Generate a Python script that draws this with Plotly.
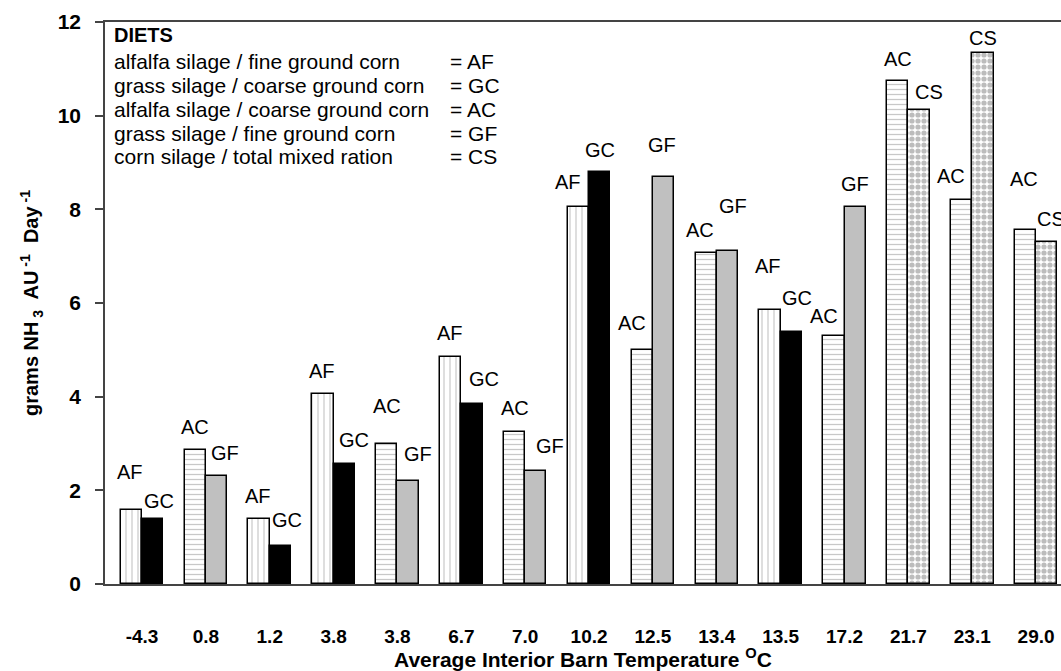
import plotly.graph_objects as go

# Average interior barn temperature (°C) for each sampling period
temps = ["-4.3", "0.8", "1.2", "3.8", "3.8", "6.7", "7.0", "10.2",
         "12.5", "13.4", "13.5", "17.2", "21.7", "23.1", "29.0"]

# Left bar of each pair: diet code and NH3 emission (g AU-1 day-1)
left_diet = ["AF", "AC", "AF", "AF", "AC", "AF", "AC", "AF",
             "AC", "AC", "AF", "AC", "AC", "AC", "AC"]
left_val = [1.58, 2.87, 1.39, 4.06, 2.98, 4.84, 3.25, 8.06,
            5.00, 7.06, 5.86, 5.29, 10.74, 8.21, 7.56]

# Right bar of each pair
right_diet = ["GC", "GF", "GC", "GC", "GF", "GC", "GF", "GC",
              "GF", "GF", "GC", "GF", "CS", "CS", "CS"]
right_val = [1.38, 2.30, 0.81, 2.57, 2.21, 3.84, 2.41, 8.79,
             8.70, 7.12, 5.38, 8.04, 10.13, 11.33, 7.31]

diet_names = [
    ("alfalfa silage / fine ground corn", "AF"),
    ("grass silage / coarse ground corn", "GC"),
    ("alfalfa silage / coarse ground corn", "AC"),
    ("grass silage / fine ground corn", "GF"),
    ("corn silage / total mixed ration", "CS"),
]

# fill style per diet
STYLE = {
    "AF": dict(color="white", pattern=dict(shape="|", fgcolor="#c8c8c8", bgcolor="white",
                                           size=6, solidity=0.2, fillmode="replace")),
    "AC": dict(color="white", pattern=dict(shape="-", fgcolor="#c8c8c8", bgcolor="white",
                                           size=5, solidity=0.25, fillmode="replace")),
    "GC": dict(color="black"),
    "GF": dict(color="#c0c0c0"),
    "CS": dict(color="white", pattern=dict(shape=".", fgcolor="#bcbcbc", bgcolor="white",
                                           size=6, solidity=0.6, fillmode="replace")),
}

# pixel nudges for the diet labels above each bar (dx, dy up)
left_lab_off = [(-1, 38), (0, 23), (-1, 23), (-1, 23), (0, 38), (-1, 24), (0, 24), (-10, 25),
                (-10, 27), (-6, 23), (-2, 44), (-10, 20), (0, 22), (-11, 24), (-1, 51)]
right_lab_off = [(6, 18), (8, 23), (7, 26), (10, 24), (10, 27), (12, 25), (14, 25), (0, 22),
                 (-2, 32), (6, 45), (6, 34), (0, 23), (10, 18), (0, 15), (4, 23)]

FONT = "Liberation Sans, Arial, sans-serif"
W, H = 1061, 671
L, R, T, B = 105, 0, 22, 87
PW, PH = W - L - R, H - T - B

def px(x):
    return (x - L) / PW

def py(y):
    return (H - B - y) / PH

xs = list(range(len(temps)))
BW = 1 / 3

fig = go.Figure()
# one trace per diet so every fill style is scalar
for code in ["AF", "AC", "GC", "GF", "CS"]:
    for diets, vals, off in ((left_diet, left_val, -BW), (right_diet, right_val, 0.0)):
        idx = [i for i in xs if diets[i] == code]
        if not idx:
            continue
        marker = dict(STYLE[code])
        marker["line"] = dict(color="black", width=1.5)
        fig.add_trace(go.Bar(
            x=idx, y=[vals[i] for i in idx], width=BW, offset=off,
            marker=marker, name=code, showlegend=False, hoverinfo="skip",
        ))

ann = []
for i in xs:
    dx, dy = left_lab_off[i]
    ann.append(dict(x=i - BW / 2, y=left_val[i], xref="x", yref="y", text=left_diet[i],
                    showarrow=False, xshift=dx, yshift=dy, font=dict(size=20, color="black")))
    dx, dy = right_lab_off[i]
    ann.append(dict(x=i + BW / 2, y=right_val[i], xref="x", yref="y", text=right_diet[i],
                    showarrow=False, xshift=dx, yshift=dy, font=dict(size=20, color="black")))

# diet key in the upper-left corner
ann.append(dict(x=px(112), y=py(35), xref="paper", yref="paper", text="<b>DIETS</b>",
                xanchor="left", yanchor="middle", showarrow=False, font=dict(size=20)))
line_y = [61, 85, 109, 133, 157]
for (desc, code), yy in zip(diet_names, line_y):
    ann.append(dict(x=px(112), y=py(yy), xref="paper", yref="paper", text=desc,
                    xanchor="left", yanchor="middle", showarrow=False, font=dict(size=21)))
    ann.append(dict(x=px(448), y=py(yy), xref="paper", yref="paper", text="= " + code,
                    xanchor="left", yanchor="middle", showarrow=False, font=dict(size=21)))

# axis titles
ann.append(dict(x=0.5, y=py(671), xref="paper", yref="paper",
                text="<b>Average Interior Barn Temperature <sup>O</sup>C</b>",
                showarrow=False, yanchor="bottom", yshift=-2, font=dict(size=21)))
ann.append(dict(x=px(31), y=0.5, xref="paper", yref="paper",
                text="<b>grams NH<sub> 3</sub>  AU<sup> -1</sup>  Day<sup> -1</sup></b>",
                showarrow=False, textangle=-90, xanchor="center", font=dict(size=20)))

fig.update_layout(
    width=W, height=H,
    margin=dict(l=L, r=R, t=T, b=B, pad=0),
    paper_bgcolor="white", plot_bgcolor="white",
    font=dict(family=FONT, color="black"),
    annotations=ann,
    bargap=0, barmode="overlay",
    xaxis=dict(
        range=[-0.58, 14.39], tickmode="array", tickvals=xs,
        ticktext=["<b>%s</b>" % t for t in temps],
        ticks="", showline=True, linecolor="#444", linewidth=1.5, mirror=True,
        showgrid=False, zeroline=False, tickfont=dict(size=19),
        ticklabelstandoff=34,
    ),
    yaxis=dict(
        range=[0, 12], tickvals=[0, 2, 4, 6, 8, 10, 12],
        ticktext=["<b>%d</b>" % v for v in [0, 2, 4, 6, 8, 10, 12]],
        ticks="outside", ticklen=8, tickcolor="#444", tickwidth=1.5,
        showline=True, linecolor="#444", linewidth=1.5,
        showgrid=False, zeroline=False, tickfont=dict(size=21),
        ticklabelstandoff=10,
    ),
)

fig.write_html("out.html")
